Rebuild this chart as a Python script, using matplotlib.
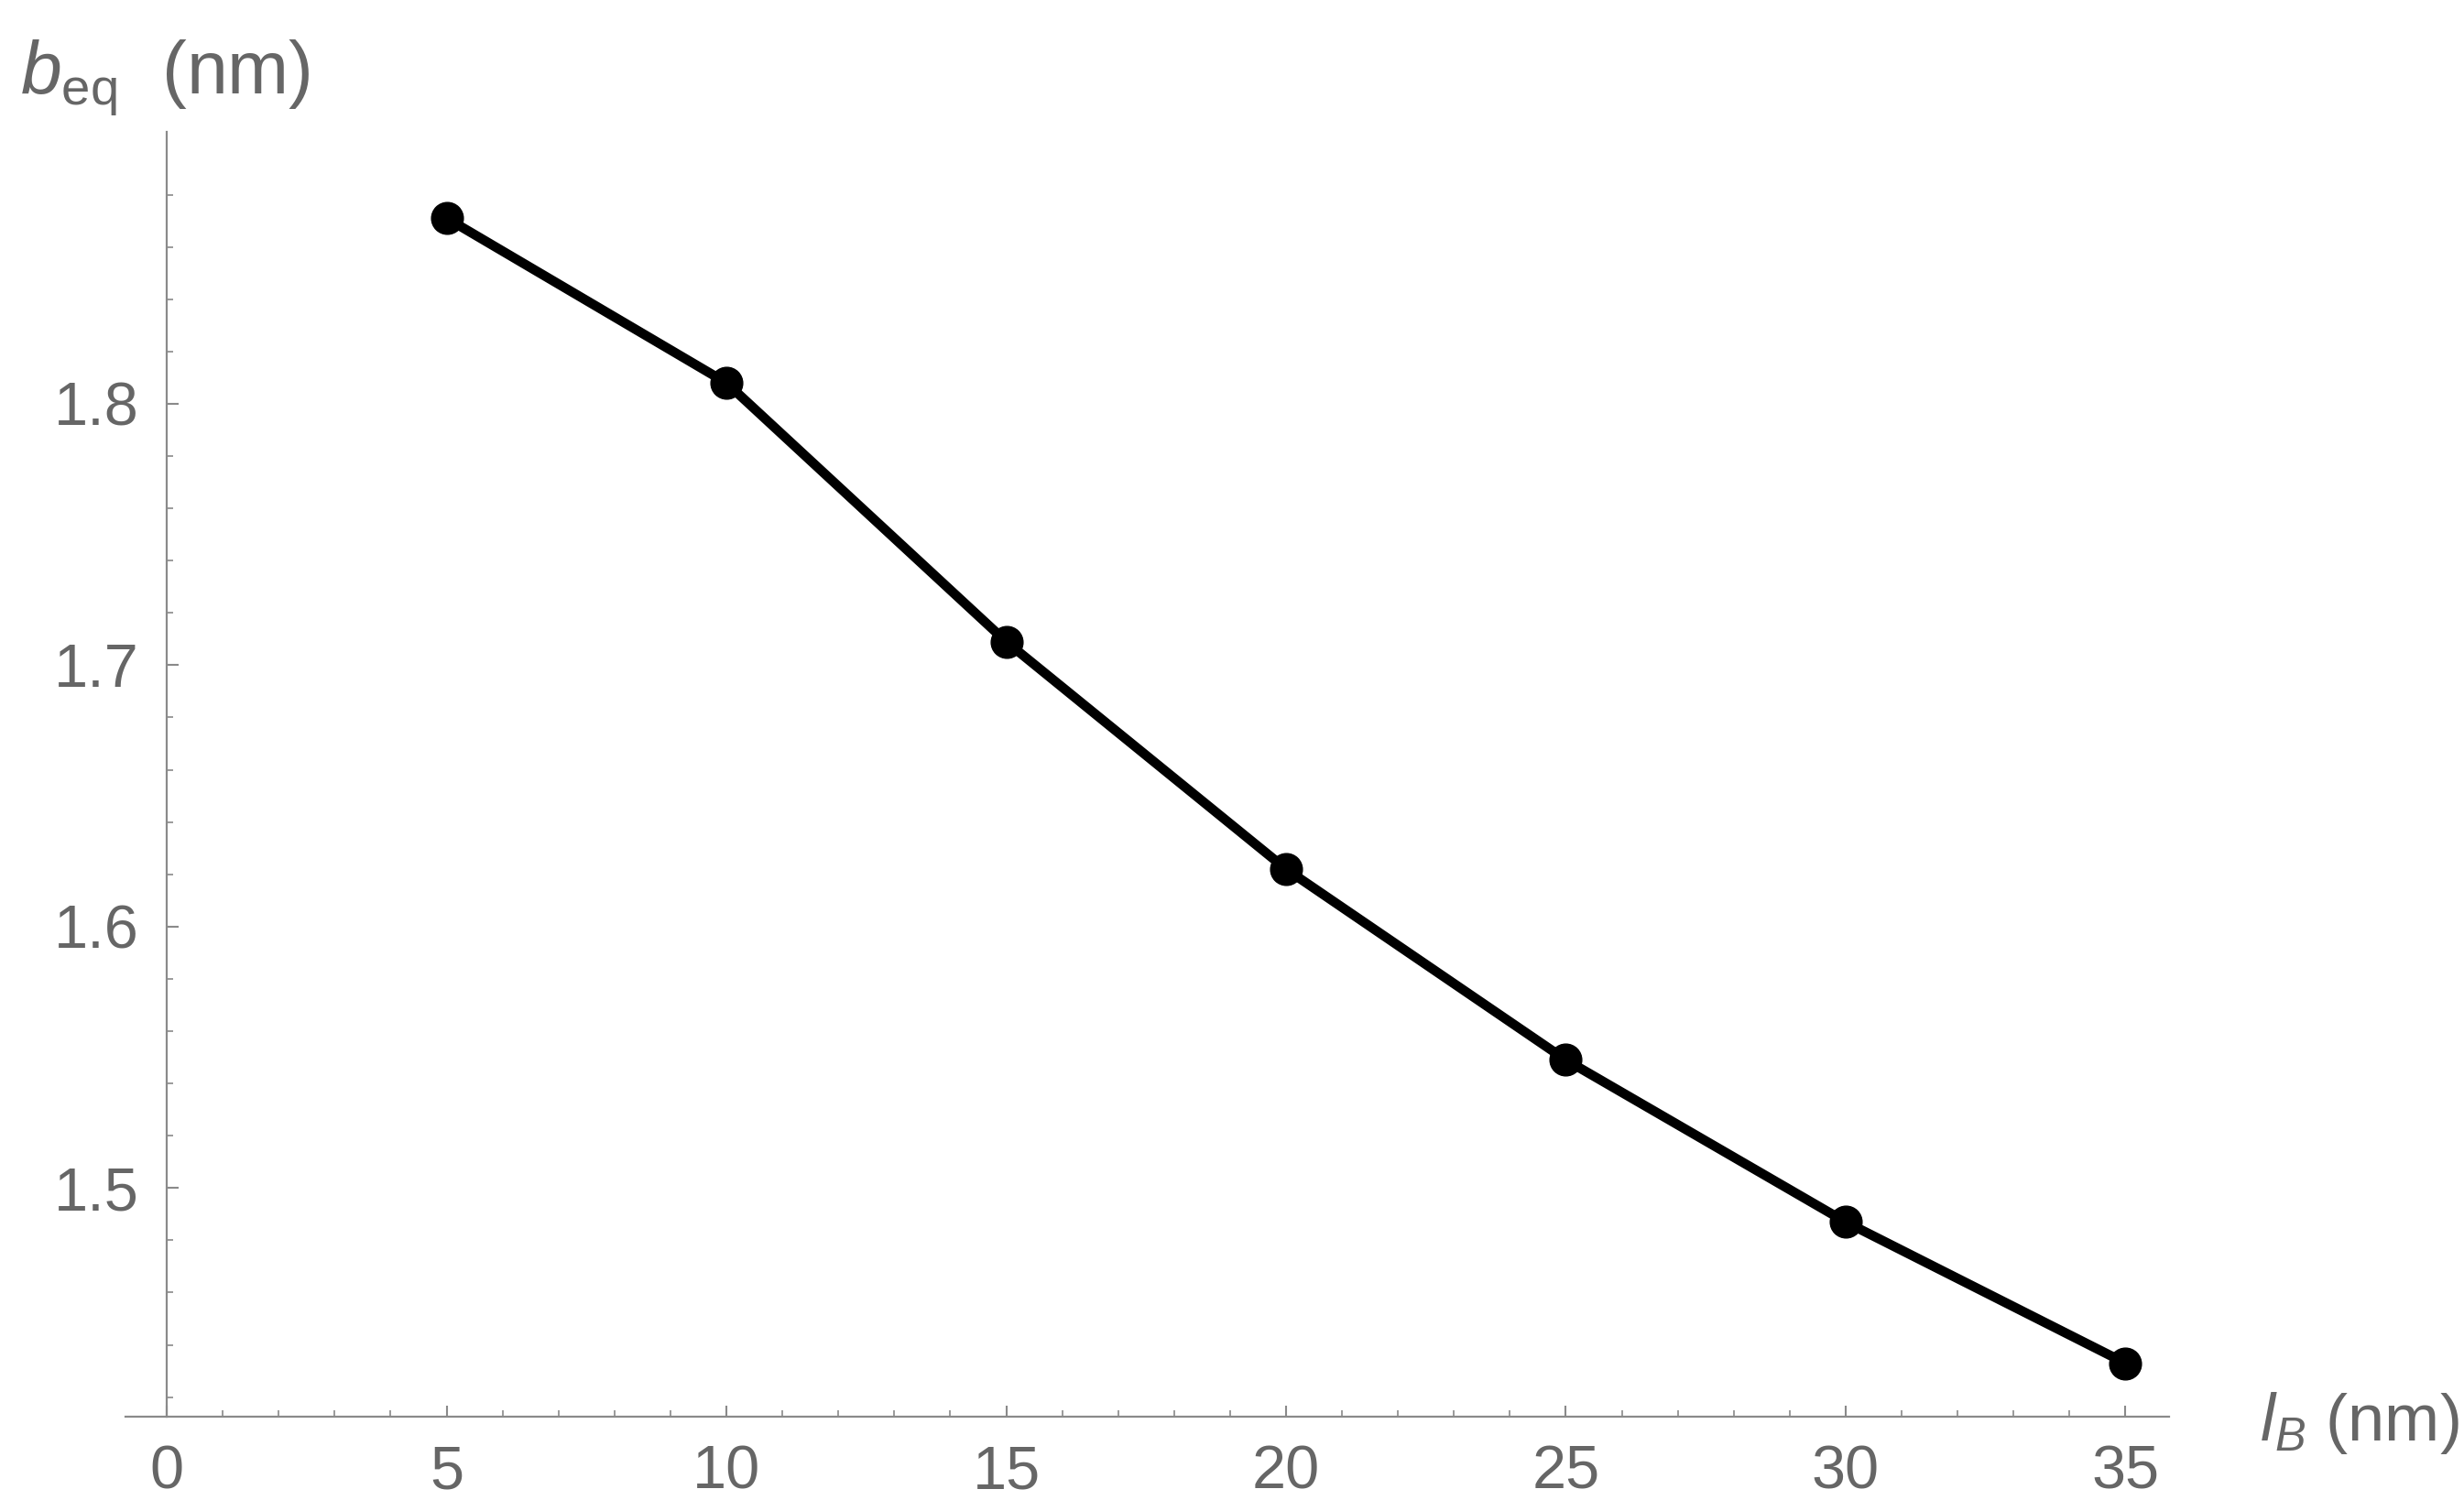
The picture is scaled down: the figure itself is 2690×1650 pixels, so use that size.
import matplotlib.pyplot as plt
import numpy as np

plt.rcParams['font.family'] = 'Liberation Sans'
plt.rcParams['mathtext.fontset'] = 'custom'
plt.rcParams['mathtext.rm'] = 'Liberation Sans'
plt.rcParams['mathtext.it'] = 'Liberation Sans:italic'

# data
l_b = [5, 10, 15, 20, 25, 30, 35]
b_eq = [1.871, 1.808, 1.709, 1.622, 1.549, 1.487, 1.433]

x_ticks = [0, 5, 10, 15, 20, 25, 30, 35]
y_ticks = [1.5, 1.6, 1.7, 1.8]

axis_col = '#8a8a8a'
text_col = '#666666'

fig = plt.figure(figsize=(26.9, 16.5), dpi=100)
ax = fig.add_axes([0.0509, 0.0624, 0.8294, 0.8503])

ax.plot(l_b, b_eq, color='black', lw=7.5, marker='o', ms=25,
        solid_capstyle='round', zorder=3)

ax.set_xlim(-0.74, 35.78)
ax.set_ylim(1.4125, 1.904)

ax.spines['top'].set_visible(False)
ax.spines['right'].set_visible(False)
ax.spines['left'].set_position(('data', 0))
for s in ['left', 'bottom']:
    ax.spines[s].set_color(axis_col)
    ax.spines[s].set_linewidth(1.6)

ax.set_xticks(x_ticks)
ax.set_xticks(np.arange(0, 36, 1), minor=True)
ax.set_yticks(y_ticks)
ax.set_yticks(np.arange(1.42, 1.9, 0.02), minor=True)
ax.set_yticklabels([str(v) for v in y_ticks])

ax.tick_params(which='major', direction='in', length=9, width=1.5,
               color=axis_col, labelcolor=text_col, labelsize=48, pad=22)
ax.tick_params(which='minor', direction='in', length=5, width=1.2,
               color=axis_col)

fig.text(0.008, 0.948, r'$b_{\mathrm{eq}}$  (nm)', fontsize=58,
         color=text_col, ha='left', va='center')
fig.text(0.917, 0.058, r'$l_B$ (nm)', fontsize=52,
         color=text_col, ha='left', va='center')

fig.savefig('out.png', dpi=100)
